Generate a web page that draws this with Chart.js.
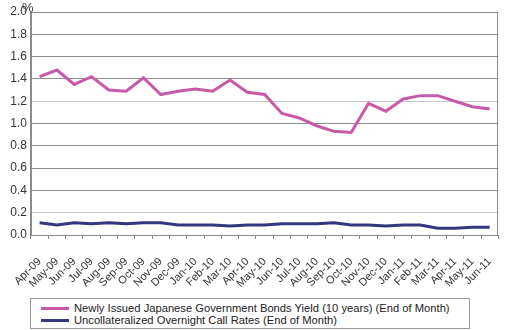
<!DOCTYPE html>
<html lang="en">

<head>
    <meta charset="UTF-8">
    <title>JGB Yield and Call Rates</title>
    <script src="https://cdn.jsdelivr.net/npm/chart.js"></script>
    <style>
        body { margin: 0; background: #fff; font-family: "Liberation Sans", Arial, sans-serif; }
        #wrap { position: relative; width: 515px; height: 330px; }
        #legend {
            position: absolute; left: 30px; top: 298px; width: 440px; height: 31px;
            border: 1px solid #9a9a9a; font-size: 11.2px; color: #222; line-height: 12px;
            padding-top: 3px; box-sizing: border-box;
        }
        #legend div { position: relative; padding-left: 43px; height: 12px; white-space: nowrap; }
        #legend span { position: absolute; left: 10px; top: 5px; width: 28px; height: 3px; }
    </style>
</head>

<body>
    <div id="wrap">
        <canvas id="rateChart" width="515" height="292"></canvas>
        <div id="legend"></div>
    </div>

    <script>
        // Month-end values, Apr 2009 - Jun 2011 (%)
        const months = ['Apr-09', 'May-09', 'Jun-09', 'Jul-09', 'Aug-09', 'Sep-09', 'Oct-09', 'Nov-09', 'Dec-09',
            'Jan-10', 'Feb-10', 'Mar-10', 'Apr-10', 'May-10', 'Jun-10', 'Jul-10', 'Aug-10', 'Sep-10', 'Oct-10',
            'Nov-10', 'Dec-10', 'Jan-11', 'Feb-11', 'Mar-11', 'Apr-11', 'May-11', 'Jun-11'];
        const jgbYield = [1.42, 1.48, 1.35, 1.42, 1.30, 1.29, 1.41, 1.26, 1.29,
            1.31, 1.29, 1.39, 1.28, 1.26, 1.09, 1.05, 0.98, 0.93, 0.92,
            1.18, 1.11, 1.22, 1.25, 1.25, 1.20, 1.15, 1.13];
        const callRate = [0.11, 0.09, 0.11, 0.10, 0.11, 0.10, 0.11, 0.11, 0.09,
            0.09, 0.09, 0.08, 0.09, 0.09, 0.10, 0.10, 0.10, 0.11, 0.09,
            0.09, 0.08, 0.09, 0.09, 0.06, 0.06, 0.07, 0.07];
        const yTicks = [0, 0.2, 0.4, 0.6, 0.8, 1.0, 1.2, 1.4, 1.6, 1.8, 2.0];
        const seriesNames = ['Newly Issued Japanese Government Bonds Yield (10 years) (End of Month)',
            'Uncollateralized Overnight Call Rates (End of Month)'];
        const seriesColors = ['#c65aa9', '#323780'];

        const font = "'Liberation Sans', Arial, sans-serif";

        // frame round the plot area plus the "%" unit label
        const framePlugin = {
            id: 'frame',
            afterDraw(chart) {
                const { ctx, chartArea: a } = chart;
                ctx.save();
                ctx.strokeStyle = '#8c8c8c';
                ctx.lineWidth = 1;
                ctx.strokeRect(Math.round(a.left) + 0.5, Math.round(a.top) + 0.5,
                    Math.round(a.right - a.left) - 1, Math.round(a.bottom - a.top));
                ctx.fillStyle = '#333';
                ctx.font = '13px ' + font;
                ctx.textBaseline = 'top';
                ctx.fillText('%', 22, 2);
                ctx.restore();
            }
        };

        new Chart(document.getElementById('rateChart'), {
            type: 'line',
            data: {
                labels: months,
                datasets: [
                    { label: seriesNames[0], data: jgbYield, borderColor: seriesColors[0], borderWidth: 3, pointRadius: 0, tension: 0 },
                    { label: seriesNames[1], data: callRate, borderColor: seriesColors[1], borderWidth: 3, pointRadius: 0, tension: 0 }
                ]
            },
            options: {
                responsive: false,
                animation: false,
                layout: { padding: { top: 12, right: 2, left: 0 } },
                plugins: { legend: { display: false }, tooltip: { enabled: false } },
                scales: {
                    x: {
                        offset: true,
                        grid: { drawOnChartArea: false, drawTicks: true, tickLength: 4, color: '#8c8c8c', offset: true },
                        border: { color: '#8c8c8c' },
                        ticks: {
                            autoSkip: false, maxRotation: 45, minRotation: 45, padding: 16,
                            color: '#333', font: { family: font, size: 11 }
                        },
                        afterFit(scale) { scale.height = 57; }
                    },
                    y: {
                        min: 0, max: 2,
                        afterBuildTicks(scale) { scale.ticks = yTicks.map(v => ({ value: v })); },
                        grid: {
                            drawTicks: false,
                            color: ctx => (ctx.tick && (ctx.tick.value === 0.2 || ctx.tick.value === 1.2)) ? '#c8c8c8' : '#8c8c8c'
                        },
                        border: { color: '#8c8c8c' },
                        ticks: {
                            padding: 4, color: '#333', font: { family: font, size: 12 },
                            callback: v => v.toFixed(1)
                        },
                        afterFit(scale) { scale.width = 29; }
                    }
                }
            },
            plugins: [framePlugin]
        });

        // legend drawn as a boxed list under the chart
        const legend = document.getElementById('legend');
        seriesNames.forEach((name, i) => {
            const row = document.createElement('div');
            row.innerHTML = '<span style="background:' + seriesColors[i] + '"></span>' + name;
            legend.appendChild(row);
        });
    </script>
</body>

</html>
